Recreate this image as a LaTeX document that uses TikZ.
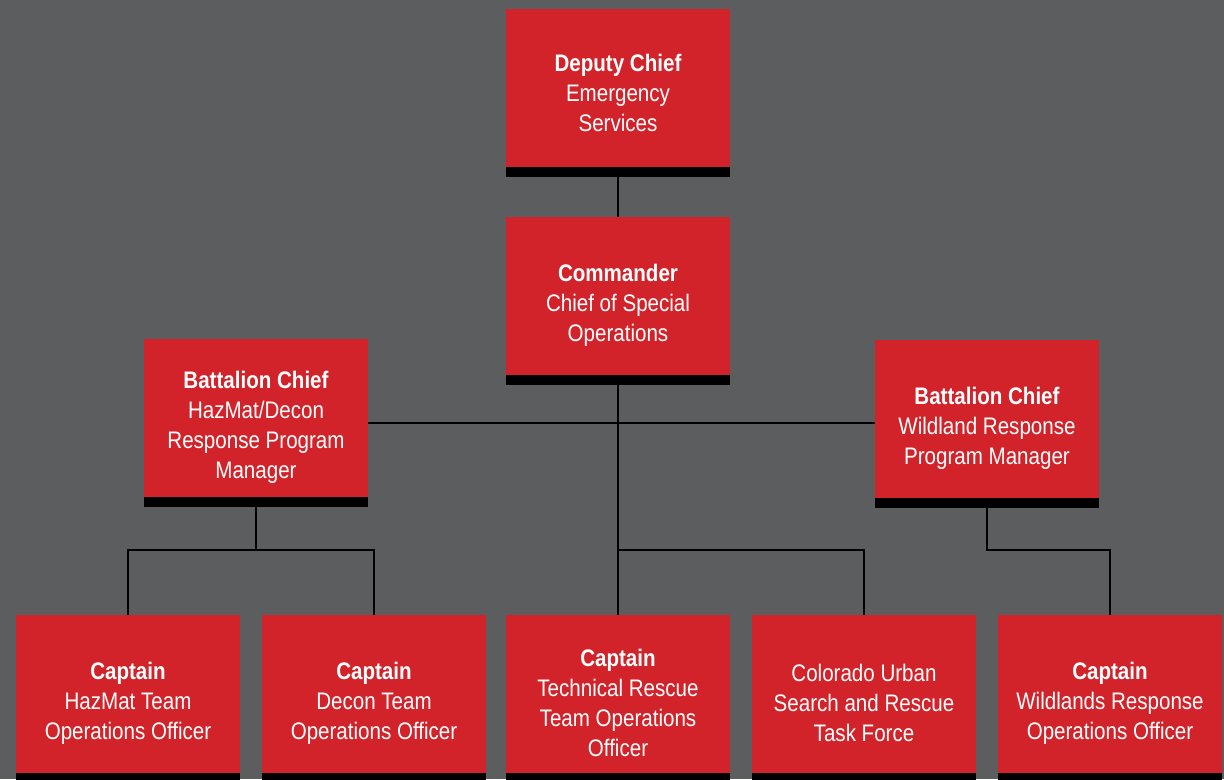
\documentclass[tikz,border=0pt]{standalone}
\usepackage{fontspec}
\setmainfont{Liberation Sans}[FakeStretch=0.86]
\usepackage{xcolor}
\usepackage{tikz}

\definecolor{bggray}{RGB}{92,93,95}
\definecolor{firered}{RGB}{210,35,42}

% first line of a box, with a strut to push the text a little lower
\newcommand{\rank}[1]{\rule{0pt}{18pt}\textbf{#1}}

\begin{document}
\begin{tikzpicture}[x=0.025cm, y=-0.025cm,
  post/.style={fill=firered, text=white, align=center, inner sep=0pt,
    minimum width=5.6cm, minimum height=4.2cm,
    font=\fontsize{17}{21.3}\selectfont,
    path picture={\fill[black] (path picture bounding box.south west)
      rectangle ([yshift=0.25cm]path picture bounding box.south east);}},
  link/.style={draw=black, line width=2.1pt}]
\useasboundingbox (0,0) rectangle (1224,779);
\fill [bggray] (0,0) rectangle (1224,779);
\clip (0,0) rectangle (1224,779);

% top of the chain
\node [post] (dep) at (618,93) {\textbf{Deputy Chief}\\Emergency\\Services};
\node [post] (cmd) at (618,301) {\rank{Commander}\\Chief of Special\\Operations};

% battalion chiefs
\node [post] (bcl) at (256,423) {\rank{Battalion Chief}\\HazMat/Decon\\Response Program\\Manager};
\node [post] (bcr) at (987,424) {\rank{Battalion Chief}\\Wildland Response\\Program Manager};

% bottom row
\node [post] (hzt) at (128,699) {\rank{Captain}\\HazMat Team\\Operations Officer};
\node [post] (dct) at (374,699) {\rank{Captain}\\Decon Team\\Operations Officer};
\node [post] (tec) at (618,699) {\rank{Captain}\\Technical Rescue\\Team Operations\\Officer};
\node [post] (usr) at (864,699) {\rank{}Colorado Urban\\Search and Rescue\\Task Force};
\node [post] (wrt) at (1110,699) {\rank{Captain}\\Wildlands Response\\Operations Officer};

\coordinate (split) at (0,550);

\draw [link] (dep.south) -- (cmd.north);
\draw [link] (cmd.south) -- (tec.north);
\draw [link] (bcl.east) -- (bcl.east -| bcr.west);
\draw [link] (bcl.south) -- (split -| bcl.south);
\draw [link] (hzt.north) |- (split -| bcl.south) -| (dct.north);
\draw [link] (split -| cmd.south) -| (usr.north);
\draw [link] (bcr.south) |- (split -| wrt.north) -- (wrt.north);
\end{tikzpicture}
\end{document}
